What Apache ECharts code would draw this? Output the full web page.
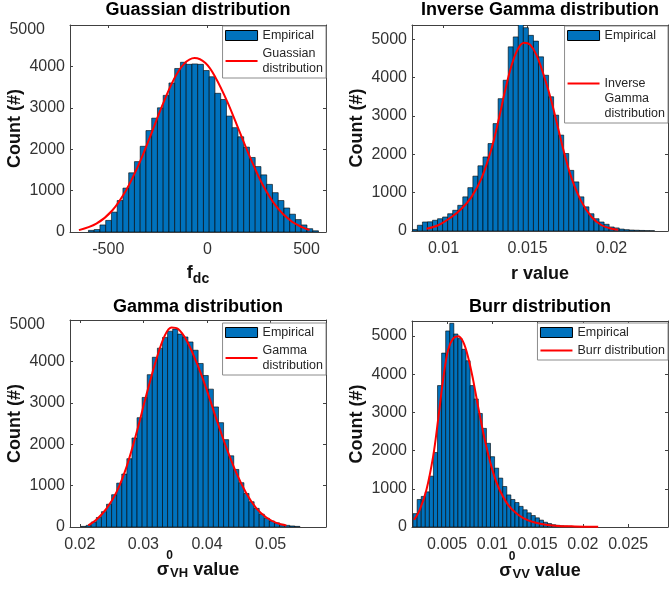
<!DOCTYPE html>
<html>
<head>
<meta charset="utf-8">
<title>Fitted distributions</title>
<script src="https://cdn.jsdelivr.net/npm/echarts@6/dist/echarts.min.js"></script>
<style>
  html, body { margin: 0; padding: 0; background: #fff; }
  #chart { width: 669px; height: 593px; }
</style>
</head>
<body>
<div id="chart"></div>
<script>
// --- data ---

// Guassian (f_dc) histogram: first bin edge, bin width, counts
const gaussBinStart = -600;
const gaussBinWidth = 29;
const gaussCounts = [40, 60, 170, 280, 480, 760, 1060, 1430, 1700, 2070,
    2450, 2750, 3000, 3300, 3600, 3950, 4100, 4050, 4060, 4050,
    3900, 3750, 3350, 3200, 2800, 2520, 2300, 2050, 1800, 1580,
    1380, 1150, 950, 760, 580, 430, 300, 170, 80, 30];
const gaussFitX = [-648, -560, -480, -410, -350, -290, -230, -170, -120, -65,
    -10, 40, 100, 160, 220, 280, 350, 420, 480, 515];
const gaussFitY = [45, 200, 520, 1010, 1590, 2290, 3030, 3680, 4050, 4200,
    4080, 3740, 3150, 2450, 1750, 1130, 600, 270, 110, 45];

// Inverse Gamma (r value)
const invBinStart = 0.00815;
const invBinWidth = 0.0003;
const invCounts = [40, 150, 235, 240, 280, 320, 365, 450, 540, 670,
    890, 1130, 1430, 1700, 1930, 2280, 2800, 3450, 3930, 4800,
    5060, 5400, 5300, 5100, 4950, 4540, 4060, 3500, 3020, 2500,
    2020, 1580, 1280, 890, 630, 450, 320, 235, 175, 105,
    80, 50, 35, 25, 20, 15, 10, 8];
const invFitX = [0.00899, 0.00968, 0.01048, 0.01107, 0.01167, 0.01226, 0.01286, 0.01325,
    0.01365, 0.01405, 0.01444, 0.01480, 0.01514, 0.01554, 0.01603, 0.01643,
    0.01682, 0.01722, 0.01762, 0.01821, 0.01881, 0.01940, 0.02000, 0.02039];
const invFitY = [60, 150, 365, 580, 890, 1370, 2150, 2840, 3630, 4320, 4760, 4910,
    4860, 4580, 3970, 3370, 2670, 1970, 1370, 760, 365, 150, 60, 35];

// Gamma (sigma0 VH)
const gammaBinStart = 0.0202;
const gammaBinWidth = 0.0008;
const gammaCounts = [15, 40, 120, 230, 370, 550, 780, 1060, 1280, 1650,
    2150, 2640, 3130, 3680, 4100, 4320, 4580, 4730, 4780, 4660,
    4590, 4470, 4270, 3950, 3660, 3330, 2900, 2520, 2110, 1720,
    1390, 1070, 810, 610, 450, 310, 210, 145, 100, 65,
    40, 25, 15];
const gammaFitX = [0.02134, 0.02265, 0.02422, 0.02579, 0.02736, 0.02893, 0.03050, 0.03207,
    0.03337, 0.03442, 0.03547, 0.03677, 0.03834, 0.03991, 0.04148, 0.04305,
    0.04462, 0.04619, 0.04776, 0.04933, 0.05090, 0.05247];
const gammaFitY = [40, 180, 450, 850, 1460, 2280, 3210, 4070, 4630, 4820, 4780,
    4510, 3980, 3330, 2600, 1910, 1300, 810, 450, 230, 100, 35];

// Burr (sigma0 VV)
const burrBinStart = 0.00125;
const burrBinWidth = 0.00045;
const burrCounts = [350, 720, 800, 920, 1330, 1950, 3700, 4550, 5130, 5330,
    5050, 4930, 4650, 4350, 3700, 3350, 2970, 2580, 2190, 1840,
    1540, 1280, 1060, 840, 720, 640, 540, 450, 370, 300,
    240, 180, 125, 90, 60, 45, 32, 24, 18, 13,
    9, 6, 4];
const burrFitX = [0.00136, 0.00198, 0.00272, 0.00346, 0.00401, 0.00456, 0.00511, 0.00566,
    0.00621, 0.00677, 0.00732, 0.00788, 0.00843, 0.00917, 0.00990, 0.01064,
    0.01174, 0.01285, 0.01395, 0.01543, 0.01690, 0.01911, 0.02169];
const burrFitY = [190, 450, 970, 1840, 2800, 3850, 4630, 4930, 4990, 4850, 4450, 3850,
    3150, 2280, 1580, 1060, 580, 320, 175, 80, 35, 15, 8];

// tick labels
const gaussXTicks = [-500, 0, 500];
const invXTicks = [0.01, 0.015, 0.02];
const gammaXTicks = [0.02, 0.03, 0.04, 0.05];
const burrXTicks = [0.005, 0.01, 0.015, 0.02, 0.025];
const countTicks = [0, 1000, 2000, 3000, 4000, 5000];

// --- chart ---
const FONT = "'Liberation Sans', Arial, Helvetica, sans-serif";
const AXIS = '#404040';
const BAR = '#0072BD';
const FIT = '#ff0000';

function histData(start, width, counts) {
    return counts.map((c, i) => [start + i * width, start + (i + 1) * width, c]);
}
function fitData(xs, ys) {
    return xs.map((x, i) => [x, ys[i]]);
}

function renderBar(params, api) {
    const p0 = api.coord([api.value(0), api.value(2)]);
    const p1 = api.coord([api.value(1), 0]);
    return {
        type: 'rect',
        shape: { x: p0[0], y: p0[1], width: p1[0] - p0[0], height: p1[1] - p0[1] },
        style: { fill: BAR, stroke: '#000', lineWidth: 0.6 }
    };
}

const sigmaRich = {
    m: { fontSize: 18, fontWeight: 'bold', fontFamily: FONT, color: '#111', lineHeight: 40 },
    sup: { fontSize: 12, fontWeight: 'bold', fontFamily: FONT, color: '#111', lineHeight: 12, verticalAlign: 'top', width: 1 },
    sub: { fontSize: 13, fontWeight: 'bold', fontFamily: FONT, color: '#111', lineHeight: 13, padding: [7, 0, 0, 0] }
};

const panels = [
    {
        title: 'Guassian distribution', titleTop: 1, grid: { left: 70, top: 25, width: 256, height: 207 },
        xMin: -693, xMax: 598, yMax: 5000, xTicks: gaussXTicks, shiftTop: true,
        xName: '{m|f}{sub|dc}', nameGap: 28,
        nameRich: {
            m: { fontSize: 18, fontWeight: 'bold', fontFamily: FONT, color: '#111', lineHeight: 26 },
            sub: { fontSize: 14, fontWeight: 'bold', fontFamily: FONT, color: '#111', lineHeight: 14, verticalAlign: 'bottom' }
        },
        hist: histData(gaussBinStart, gaussBinWidth, gaussCounts),
        fit: fitData(gaussFitX, gaussFitY), fitName: 'Guassian distribution',
        legendText: 'Guassian\ndistribution', legendRight: 343, legendTop: 26
    },
    {
        title: 'Inverse Gamma distribution', titleTop: 1, grid: { left: 412, top: 25, width: 256, height: 206 },
        xMin: 0.00813, xMax: 0.02335, yMax: 5370, xTicks: invXTicks, shiftTop: false,
        xName: 'r value', nameGap: 33, nameRich: null,
        hist: histData(invBinStart, invBinWidth, invCounts),
        fit: fitData(invFitX, invFitY), fitName: 'Inverse Gamma distribution',
        legendText: '\n\nInverse\nGamma\ndistribution', legendRight: 1, legendTop: 26
    },
    {
        title: 'Gamma distribution', titleTop: 298, grid: { left: 70, top: 320, width: 256, height: 207 },
        xMin: 0.01846, xMax: 0.0587, yMax: 5000, xTicks: gammaXTicks, shiftTop: true,
        xName: '{m|σ}{sup|0}{sub|VH}{m| value}', nameGap: 23, nameRich: sigmaRich,
        hist: histData(gammaBinStart, gammaBinWidth, gammaCounts),
        fit: fitData(gammaFitX, gammaFitY), fitName: 'Gamma distribution',
        legendText: 'Gamma\ndistribution', legendRight: 343, legendTop: 323
    },
    {
        title: 'Burr distribution', titleTop: 298, grid: { left: 412, top: 321, width: 256, height: 206 },
        xMin: 0.00113, xMax: 0.0294, yMax: 5390, xTicks: burrXTicks, shiftTop: false,
        xName: '{m|σ}{sup|0}{sub|VV}{m| value}', nameGap: 24, nameRich: sigmaRich,
        hist: histData(burrBinStart, burrBinWidth, burrCounts),
        fit: fitData(burrFitX, burrFitY), fitName: 'Burr distribution',
        legendText: 'Burr distribution', legendRight: 1, legendTop: 323
    }
];

const option = {
    animation: false,
    backgroundColor: '#fff',
    title: [], grid: [], xAxis: [], yAxis: [], legend: [], series: []
};

panels.forEach((p, k) => {
    option.title.push({
        text: p.title,
        left: p.grid.left + p.grid.width / 2,
        top: p.titleTop,
        textAlign: 'center',
        padding: 0,
        textStyle: { fontSize: 18, fontWeight: 'bold', color: '#000', fontFamily: FONT }
    });

    option.grid.push(Object.assign({ show: false }, p.grid));

    const tick = { show: true, inside: true, length: 3, lineStyle: { color: AXIS, width: 1 } };
    const line = { show: true, onZero: false, lineStyle: { color: AXIS, width: 1 } };

    option.xAxis.push({
        type: 'value', gridIndex: k, position: 'bottom', min: p.xMin, max: p.xMax,
        name: p.xName, nameLocation: 'middle', nameGap: p.nameGap, nameMoveOverlap: false,
        nameTextStyle: p.nameRich ? { rich: p.nameRich } :
            { fontSize: 18, fontWeight: 'bold', color: '#111', fontFamily: FONT, lineHeight: 20 },
        splitLine: { show: false },
        axisLine: line,
        axisTick: Object.assign({ customValues: p.xTicks }, tick),
        axisLabel: {
            customValues: p.xTicks, margin: 10, fontSize: 16, color: '#333', fontFamily: FONT,
            formatter: v => String(v)
        }
    });
    option.xAxis.push({
        type: 'value', gridIndex: k, position: 'top', min: p.xMin, max: p.xMax,
        splitLine: { show: false }, axisLine: line,
        axisTick: Object.assign({ customValues: p.xTicks }, tick),
        axisLabel: { show: false }
    });

    option.yAxis.push({
        type: 'value', gridIndex: k, position: 'left', min: 0, max: p.yMax,
        name: 'Count (#)', nameLocation: 'middle', nameGap: 46, nameMoveOverlap: false,
        nameTextStyle: { fontSize: 18, fontWeight: 'bold', color: '#111', fontFamily: FONT },
        splitLine: { show: false },
        axisLine: line,
        axisTick: Object.assign({ customValues: countTicks }, tick),
        axisLabel: {
            customValues: countTicks, margin: 5, fontSize: 16, color: '#333', fontFamily: FONT,
            formatter: v => (p.shiftTop && v === 5000) ? '{far|' + v + '}' : String(v),
            rich: { far: { fontSize: 16, color: '#333', fontFamily: FONT, padding: [9, 20, 0, 0] } }
        }
    });
    option.yAxis.push({
        type: 'value', gridIndex: k, position: 'right', min: 0, max: p.yMax,
        splitLine: { show: false }, axisLine: line,
        axisTick: Object.assign({ customValues: countTicks }, tick),
        axisLabel: { show: false }
    });

    option.legend.push({
        orient: 'vertical', right: p.legendRight, top: p.legendTop, align: 'left',
        padding: [2, 3, 2, 2], itemGap: 3, itemWidth: 32, itemHeight: 10,
        borderColor: '#8c8c8c', borderWidth: 1, backgroundColor: '#fff',
        selectedMode: false,
        textStyle: { fontSize: 12.5, lineHeight: 15, color: '#262626', fontFamily: FONT },
        formatter: name => name === 'Empirical' ? name : p.legendText,
        data: [
            { name: 'Empirical', icon: 'rect', itemStyle: { color: BAR, borderColor: '#000', borderWidth: 1 } },
            { name: p.fitName, itemStyle: { opacity: 0 } }
        ]
    });

    option.series.push({
        name: 'Empirical', type: 'custom', xAxisIndex: 2 * k, yAxisIndex: 2 * k,
        renderItem: renderBar, clip: true,
        encode: { x: [0, 1], y: 2 },
        itemStyle: { color: BAR },
        data: p.hist
    });
    option.series.push({
        name: p.fitName, type: 'line', xAxisIndex: 2 * k, yAxisIndex: 2 * k,
        smooth: 0.35, symbol: 'none', clip: true, z: 3,
        lineStyle: { color: FIT, width: 2 },
        itemStyle: { color: FIT },
        data: p.fit
    });
});

const chart = echarts.init(document.getElementById('chart'), null, { renderer: 'canvas' });
chart.setOption(option);
</script>
</body>
</html>
